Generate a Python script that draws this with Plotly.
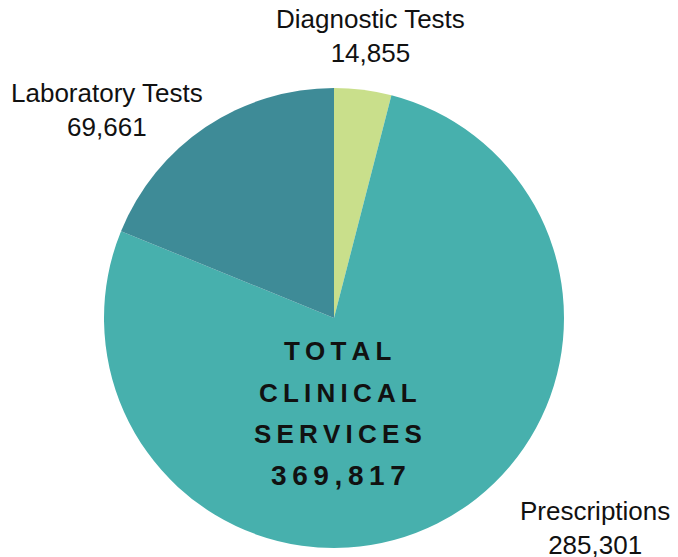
import plotly.graph_objects as go

# data
categories = ["Diagnostic Tests", "Prescriptions", "Laboratory Tests"]
values = [14855, 285301, 69661]
colors = ["#c9df8b", "#47b0ad", "#3e8b97"]

# the page body adds an 8px margin, so the figure is drawn 8px smaller
# and every position below is in window pixels minus that offset
OFF = 8
W, H = 678 - OFF, 557 - OFF
total = sum(values)


def px(x, y):
    # window pixel position -> paper coords
    return (x - OFF) / W, 1 - (y - OFF) / H


def spaced(s):
    return "\u2009".join(s)


fig = go.Figure()
cx, cy, r = 334 - OFF, 318 - OFF, 230
fig.add_trace(
    go.Pie(
        labels=categories,
        values=values,
        marker=dict(colors=colors, line=dict(width=0)),
        sort=False,
        direction="clockwise",
        rotation=0,
        textinfo="none",
        hoverinfo="label+value",
        domain=dict(
            x=[(cx - r) / W, (cx + r) / W],
            y=[(H - cy - r) / H, (H - cy + r) / H],
        ),
    )
)

# outside labels
label_pos = {
    "Diagnostic Tests": (370, 36),
    "Prescriptions": (595, 528),
    "Laboratory Tests": (107, 110),
}
for cat, val in zip(categories, values):
    x, y = px(*label_pos[cat])
    fig.add_annotation(
        x=x, y=y, xref="paper", yref="paper",
        text=f"{cat}<br>{val:,}",
        showarrow=False, align="center",
        xanchor="center", yanchor="middle",
        font=dict(family="Liberation Sans, Arial", size=26, color="#111111"),
    )

# center text
center_lines = ["TOTAL", "CLINICAL", "SERVICES", f"{total:,}"]
for i, line in enumerate(center_lines):
    x, y = px(338, 351 + i * 41.5)
    fig.add_annotation(
        x=x, y=y, xref="paper", yref="paper",
        text=f"<b>{spaced(line)}</b>",
        showarrow=False,
        xanchor="center", yanchor="middle",
        font=dict(family="Liberation Sans, Arial", size=26 if i < 3 else 28,
                  color="#111111"),
    )

fig.update_layout(
    width=W,
    height=H,
    margin=dict(l=0, r=0, t=0, b=0),
    showlegend=False,
    paper_bgcolor="white",
    plot_bgcolor="white",
)

fig.write_html("out.html")
